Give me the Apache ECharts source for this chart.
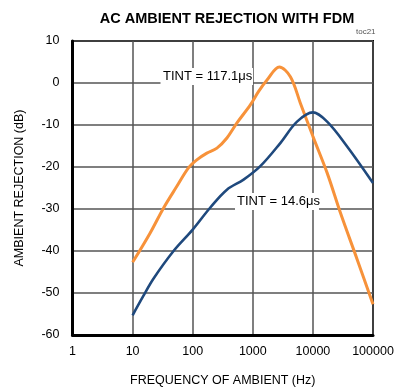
<!DOCTYPE html>
<html>
<head>
<meta charset="utf-8">
<script src="https://cdn.jsdelivr.net/npm/echarts@6/dist/echarts.min.js"></script>
<style>html,body{margin:0;padding:0;background:#fff;}#c{width:400px;height:392px;}</style>
</head>
<body>
<div id="c"></div>
<script>
var titleText = 'AC AMBIENT REJECTION WITH FDM';
var xName = 'FREQUENCY OF AMBIENT (Hz)';
var yName = 'AMBIENT REJECTION (dB)';
var yTicks = [-60, -50, -40, -30, -20, -10, 0, 10];
var xTicks = [1, 10, 100, 1000, 10000, 100000];

// TINT = 117.1us (orange)
var freqA = [10, 19.6, 32.6, 54.5, 85, 117, 172, 253, 371, 545, 910, 1250, 1725, 2760, 4220, 6190, 10000, 17250, 28700, 54500, 100000];
var dbA   = [-42.7, -35.7, -29.8, -24.6, -20.2, -18.3, -16.7, -15.5, -13.1, -9.5, -5.2, -2.0, 0.7, 3.8, 1.5, -4.8, -12.7, -21.4, -30.9, -42, -52.7];

// TINT = 14.6us (blue)
var freqB = [10, 15.1, 22.2, 48, 100, 195, 371, 703, 1334, 2870, 5450, 10000, 17250, 37100, 100000];
var dbB   = [-55.3, -50.7, -46.6, -40, -34.9, -29.7, -25.4, -23, -19.8, -14.3, -9.2, -7, -9.2, -15.1, -23.8];

var labelA = 'TINT = 117.1\u03bcs';
var labelB = 'TINT = 14.6\u03bcs';

function pairs(xs, ys){ return xs.map(function(x,i){ return [x, ys[i]]; }); }

var FONT = '"Liberation Sans", Arial, sans-serif';
var chart = echarts.init(document.getElementById('c'), null, {renderer:'canvas'});
chart.setOption({
  animation: false,
  backgroundColor: '#fff',
  title: {
    text: titleText, left: 222, top: 6, textAlign: 'center',
    textStyle: {fontFamily: FONT, fontWeight: 'bold', fontSize: 14.5, color: '#000'}
  },
  grid: {left: 72.5, top: 41, right: 27, bottom: 56, show: true, borderColor: '#000', borderWidth: 2, backgroundColor: 'transparent'},
  xAxis: {
    type: 'log', logBase: 10, min: 1, max: 100000,
    name: xName, nameLocation: 'middle', nameGap: 39,
    nameTextStyle: {fontFamily: FONT, fontSize: 12.5, color: '#000'},
    axisLine: {show: true, onZero: false, lineStyle: {color: '#000', width: 3}},
    axisTick: {show: false},
    axisLabel: {fontFamily: FONT, fontSize: 12.5, color: '#000', margin: 10,
      formatter: function(v){ return String(Math.round(v)); }},
    splitLine: {show: true, lineStyle: {color: '#555', width: 1.5}},
    minorTick: {show: false}
  },
  yAxis: {
    type: 'value', min: -60, max: 10, interval: 10,
    name: yName, nameLocation: 'middle', nameGap: 46,
    nameTextStyle: {fontFamily: FONT, fontSize: 12.5, color: '#000'},
    axisLine: {show: true, onZero: false, lineStyle: {color: '#000', width: 3}},
    axisTick: {show: false},
    axisLabel: {fontFamily: FONT, fontSize: 12.5, color: '#000', margin: 13},
    splitLine: {show: true, lineStyle: {color: '#555', width: 1.5}}
  },
  series: [
    {type: 'line', data: pairs(freqA, dbA), smooth: 0.35, symbol: 'none',
     lineStyle: {color: '#F7923A', width: 3}, z: 3},
    {type: 'line', data: pairs(freqB, dbB), smooth: 0.35, symbol: 'none',
     lineStyle: {color: '#1F497D', width: 2.6}, z: 4}
  ],
  graphic: [
    {type: 'text', left: 356, top: 28, style: {text: 'toc21', font: '8px ' + FONT, fill: '#555'}},
    {type: 'rect', shape: {x: 160.5, y: 68, width: 92.5, height: 17}, style: {fill: '#fff'}, z: 10},
    {type: 'text', x: 163, y: 76.5, style: {text: labelA, font: '13px ' + FONT, fill: '#000', textVerticalAlign: 'middle'}, z: 11},
    {type: 'rect', shape: {x: 235, y: 193, width: 84, height: 17}, style: {fill: '#fff'}, z: 10},
    {type: 'text', x: 237, y: 201.5, style: {text: labelB, font: '13px ' + FONT, fill: '#000', textVerticalAlign: 'middle'}, z: 11}
  ]
});
</script>
</body>
</html>
